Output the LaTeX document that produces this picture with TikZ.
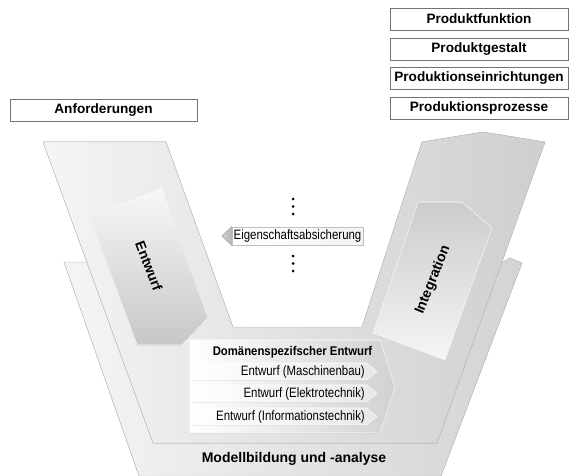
\documentclass[tikz,border=0pt]{standalone}
\usepackage{fontspec}
\setmainfont{Liberation Sans}
\newfontfamily\narrowsans[FakeStretch=0.84]{Liberation Sans}
\newfontfamily\narrowbold[FakeStretch=0.9]{Liberation Sans Bold}
\begin{document}
\begin{tikzpicture}[x=1pt,y=-1pt,
  headbox/.style={draw=black!55, line width=0.6pt, fill=white, minimum height=22pt,
    inner sep=0pt, font=\bfseries\fontsize{13.6}{15}\selectfont},
  layeredge/.style={draw=black!22, line width=0.5pt},
  phasetext/.style={font=\bfseries\fontsize{14}{16}\selectfont},
  domtext/.style={font=\narrowsans\fontsize{13.6}{15}\selectfont, anchor=east, inner sep=0pt},
  chev/.style={draw=white, line width=0.6pt, left color=white, right color=black!9},
  dot/.style={circle, fill=black, inner sep=0pt, minimum size=3pt}
]
\useasboundingbox (0,0) rectangle (570,476);

% rear V layer (model building and analysis)
\filldraw[layeredge, left color=black!4, right color=black!17]
  (64,262) -- (100,262) -- (150,400) -- (430,400) -- (498,265) -- (510,258)
  -- (522,263) -- (441,476) -- (139,476) -- cycle;

% front V layer
\filldraw[layeredge, left color=black!4, right color=black!19]
  (43,142) -- (166,142) -- (233,327) -- (362,327) -- (422,142) -- (483,132)
  -- (545,142) -- (437,443) -- (153,443) -- cycle;

% design phase block on the left arm
\filldraw[draw=white, line width=0.6pt, top color=black!3, bottom color=black!22]
  (89,215) -- (162,188) -- (208,318) -- (182,345) -- (137,345) -- cycle;
\node[phasetext, rotate=-69] (entwurf) at (149,266) {Entwurf};

% integration block on the right arm
\filldraw[draw=white, line width=0.6pt, top color=black!20, bottom color=black!4]
  (418,202) -- (462,202) -- (492,228) -- (445,360) -- (373,333) -- cycle;
\node[phasetext, rotate=68] (integ) at (433,280) {Integration};

% domain-specific design block
\filldraw[draw=white, line width=0.6pt, left color=white, right color=black!18]
  (190,340) -- (380,340) -- (395,387) -- (380,433) -- (190,433) -- cycle;
\node[font=\narrowbold\fontsize{12.6}{14}\selectfont] (dom) at (292.5,352) {Domänenspezifscher Entwurf};
\filldraw[chev] (192,363) -- (367,363) -- (377,371.5) -- (367,380) -- (192,380) -- cycle;
\filldraw[chev] (192,385) -- (367,385) -- (377,393.5) -- (367,402) -- (192,402) -- cycle;
\filldraw[chev] (192,408) -- (367,408) -- (377,416.5) -- (367,425) -- (192,425) -- cycle;
\node[domtext] (mb) at (365,371.5) {Entwurf (Maschinenbau)};
\node[domtext] (et) at (365,393.5) {Entwurf (Elektrotechnik)};
\node[domtext] (it) at (365,416.5) {Entwurf (Informationstechnik)};

% model building label
\node[phasetext] (modell) at (294,459) {Modellbildung und -analyse};

% property assurance tag with ellipses
\node[draw=black!25, line width=0.5pt, left color=white, right color=black!5,
  minimum width=131pt, minimum height=18pt, inner sep=0pt,
  font=\narrowsans\fontsize{13.6}{15}\selectfont] (eig) at (297.5,236) {Eigenschaftsabsicherung};
\filldraw[draw=black!30, line width=0.4pt, left color=black!18, right color=black!28]
  (eig.north west) -- ([xshift=-10pt]eig.west) -- (eig.south west) -- cycle;
\node[dot] (d1) at (293,199) {};
\node[dot] (d2) at (293,206.5) {};
\node[dot] (d3) at (293,214) {};
\node[dot] (d4) at (293,256) {};
\node[dot] (d5) at (293,263.5) {};
\node[dot] (d6) at (293,271) {};

% requirements and results
\node[headbox, minimum width=187pt] (anf) at (103.5,110) {Anforderungen};
\node[headbox, minimum width=178pt] (pf) at (479,19) {Produktfunktion};
\node[headbox, minimum width=178pt] (pg) at (479,49) {Produktgestalt};
\node[headbox, minimum width=178pt] (pe) at (479,78) {Produktionseinrichtungen};
\node[headbox, minimum width=178pt] (pp) at (479,108) {Produktionsprozesse};
\end{tikzpicture}
\end{document}
